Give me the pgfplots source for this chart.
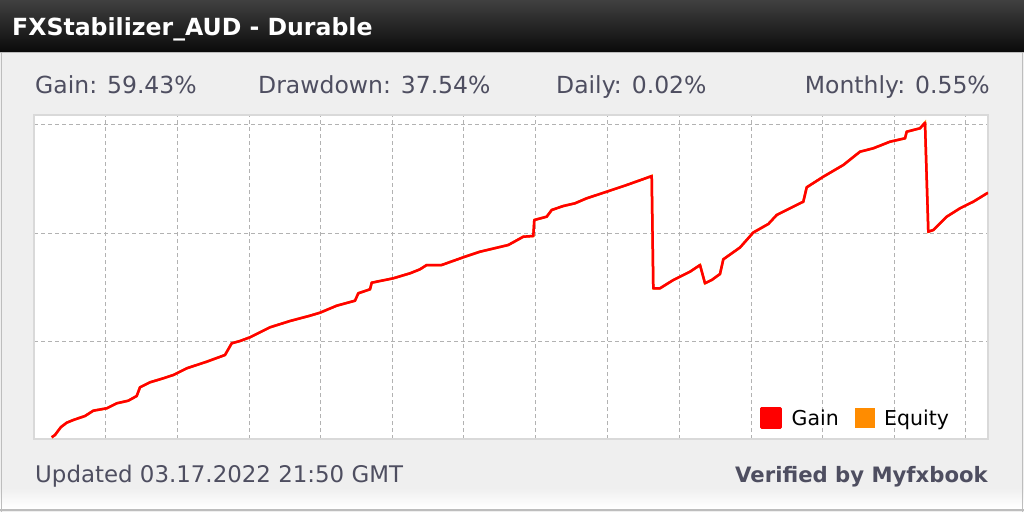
\documentclass[border=0pt]{standalone}
\usepackage{pgfplots}
\pgfplotsset{compat=1.18}
\usepackage{fontspec}
\setmainfont{DejaVu Sans}
\definecolor{hdrtop}{HTML}{404040}
\definecolor{hdrbot}{HTML}{0A0A0A}
\definecolor{bodybg}{HTML}{EFEFEF}
\definecolor{edge}{HTML}{BDBDBD}
\definecolor{plotborder}{HTML}{D9D9D9}
\definecolor{gridc}{HTML}{B2B2B2}
\definecolor{txt}{HTML}{4E4E60}
\definecolor{eqorange}{HTML}{FF8C00}
\pgfplotstableread{
x y
17.7 1.7
21 4
26.7 11.7
32.7 16.3
39.3 19
51 23
59.3 28.3
72.7 30.7
82.7 35.7
94.3 38.3
102.7 43
106 51.7
116 56.7
129.3 60.7
139.3 64
152.7 70.7
172.7 77.3
191 84
197.7 95.7
206 98
216 101.7
236 111.7
256 118
276 123.3
286 126.3
302.7 133.3
321 138.3
324.3 145.7
336 149.7
337.7 156.3
359.3 160.7
376 165.7
386 169.7
392.7 174
407.7 174
429.3 181.7
446 187.3
474.3 194
489.3 202.3
499.3 203
500.3 219
512.7 222.3
517.7 229
529.3 233
541 235.7
552.7 240.7
572.7 247.3
592.7 254
616 262.3
617.7 263
619.3 150.7
626 150.7
639.3 159
656 167.3
666 174
671 155.7
677.7 159
686 165
689.3 179.7
706 191.5
719.3 206.5
734.3 215
742.7 224
756 230.7
769.3 237.3
772.7 251.7
789.3 262.3
809.3 274
826 287.3
839.3 290.7
856 297.3
871 300.7
872.7 307.3
886 310.7
891 316.3
894.3 207.3
899.3 209
912.7 222.3
926 230.7
939.3 237.3
954 246.3
}\gaindata
\begin{document}
\begin{tikzpicture}[x=1pt,y=1pt]
\useasboundingbox (0,0) rectangle (1024,512);
\fill[bodybg] (0,0) rectangle (1024,512);
\shade[top color=bodybg, bottom color=white] (0,4) rectangle (1024,24);
\draw[edge, line width=1.5pt] (1.5,0) -- (1.5,460);
\draw[edge, line width=1.5pt] (1022.5,0) -- (1022.5,460);
\draw[edge, line width=1.5pt] (0,2) -- (1024,2);
\shade[top color=hdrtop, bottom color=hdrbot] (0,460) rectangle (1024,512);
\draw[edge, line width=1pt] (0,459.5) -- (1024,459.5);
\node[anchor=base west, inner sep=0pt, text=white, font=\fontsize{23.6}{28}\selectfont\bfseries] at (12,476) {FXStabilizer\_AUD - Durable};
\begin{scope}[every node/.style={inner sep=0pt, text=txt, font=\fontsize{23.5}{28}\selectfont}]
\node[anchor=base west] at (35,418) {Gain: 59.43\%};
\node[anchor=base west] at (258,418) {Drawdown: 37.54\%};
\node[anchor=base west] at (556,418) {Daily: 0.02\%};
\node[anchor=base east] at (990,418) {Monthly: 0.55\%};
\node[anchor=base west, font=\fontsize{22.9}{27}\selectfont] at (35,30) {Updated 03.17.2022 21:50 GMT};
\node[anchor=base east, font=\fontsize{21.2}{25}\selectfont\bfseries] at (988,30) {Verified by Myfxbook};
\end{scope}
\begin{axis}[
  at={(34pt,73pt)}, anchor=south west,
  width=954pt, height=324pt, scale only axis,
  xmin=0, xmax=954, ymin=0, ymax=324,
  axis background/.style={fill=white},
  axis line style={draw=plotborder, line width=1.5pt},
  xtick={71.6,143.4,215,286.4,358.2,429.2,501,573.3,645.3,717,788.7,860,931.7},
  ytick={97.5,206,314.6},
  xticklabels={}, yticklabels={},
  major tick length=0pt,
  grid=major,
  major grid style={draw=gridc, line width=1pt, dash pattern=on 4pt off 3pt},
  legend columns=2,
  legend style={at={(axis cs:726,10)}, anchor=south west, draw=none, fill=none,
    inner sep=0pt, font=\fontsize{20.5}{24}\selectfont, text=black,
    /tikz/every odd column/.append style={column sep=8pt},
    /tikz/every even column/.append style={column sep=14pt}},
]
\addplot[eqorange, line width=2.5pt, forget plot] table[x=x,y=y] {\gaindata};
\addplot[red, line width=2.5pt, line join=round,
  legend image code/.code={\fill[red] (0pt,-9.5pt) rectangle (19pt,9.5pt);}]
  table[x=x,y=y] {\gaindata};
\addlegendentry{Gain}
\addlegendimage{legend image code/.code={\fill[eqorange] (0pt,-9.5pt) rectangle (19pt,9.5pt);}}
\addlegendentry{Equity}
\end{axis}
\end{tikzpicture}
\end{document}
